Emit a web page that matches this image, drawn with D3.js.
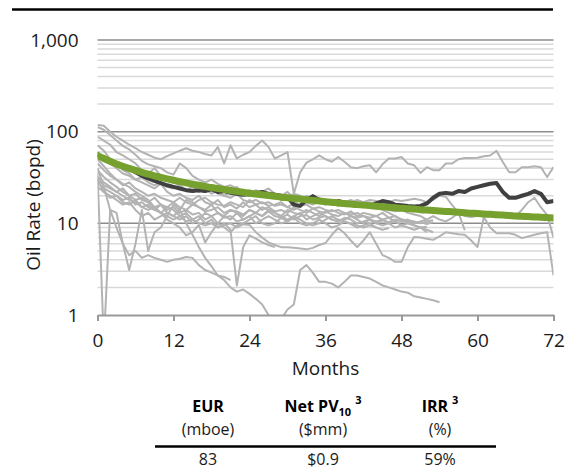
<!DOCTYPE html>
<html>
<head>
<meta charset="utf-8">
<script src="https://cdn.jsdelivr.net/npm/d3@7/dist/d3.min.js"></script>
<style>
  body { margin: 0; background: #fff; }
  svg { display: block; font-family: "Open Sans", "Noto Sans", sans-serif; }
</style>
</head>
<body>
<svg id="chart" width="583" height="471"></svg>
<script>
// ---- data: monthly oil rate (bopd) per well, index = month on production ----
const xTicks = [0, 12, 24, 36, 48, 60, 72];
const yTicks = [1, 10, 100, 1000];

const well01 = [118,116,100,88,80,72,66,60,56,52,50,54,58,62,66,62,60,57,55,68,45,71,51,56,60,70,80,68,51,55,60,21,36,46,50,55,50,47,53,47,41,40,42,43,36,44,51,51,53,45,43,35.5,41,38,38,45,45,50,51.5,51.5,52,54,55,61.7,46.6,36,36,41,41,42,41,32,41];
const well02 = [112,105,92,80,70,64,56,48,44,42,40,36,34,45,40,33,30,28,30,27,25,26,24,22,21,23,21,19,20,18,19,21,20,18,19,17,18,16.5,17,16,17.5,16,15,16,14.5,15,14,13.5,14,13,12.5,12,11];
const well03 = [88,80,72,60,55,50,45,38,35,40,33,30,28,26,29,25,23,22,24,21,20,19,21,18,17,18,16.5,17,15.5,16,15,14,15.5,16,14.5,15,14,13.5,14,13,12.5,13,12,11.5,12,11,11.5,10.5,11,10.5,10,10.3,9.8,10.3];
const well04 = [40,25,14,9,6,4.5,5,4.2,4.5,4.2,4.0,3.8,4.0,4.1,4.3,4.2,3.5,3.1,2.9,2.7,2.6,2.4];
const well05 = [30,22,20,18,16,17,14,12,13,11,12,13,12,14,10,7.5,5.5,4.2,3.4,2.7,2.4,2.0,1.8,1.9,1.7,1.5,1.3,1.0,0.5,0.9,1.15,1.3,3.1,3.5,2.9,2.3,2.3,2.2,2.0,2.3,2.7,2.7,2.6,2.5,2.3,2.1,2.0,1.9,1.8,1.75,1.6,1.55,1.5,1.45,1.38];
const well06 = [25,22,19,20,17,16,18,15,16,14,13,15,14,12,13,11,12,10,11,9,10,8.5,2.1,5.5,7.4,6.8,6.2,5.8,5.5];
const well07 = [30,26,24,22,20,18,17,15,14,15,13,12,11,12,10.5,11,10,9.5,10,9,9.5,10,9,9.8,9.6,8,7,6.2,5.8,5.5,5.5,5.4,5.3,5.2,5.4,5.8,6.1,7.5,8.9,7.8,6.5,5.5,6.5,8,6,4.5,4.2,3.8,3.8,5.5,7.1,7,6.8,6.6,7.2,8,7.8,7.6,7.5,6.5,5.5,11.7,9,7.8,7.8,7.8,7.5,6.9,7.2,7.5,7.8,8,2.7];
const well08 = [36,0.5,14,13,6,3.1,6,14,5,8,9,12,16,14,18,17,15,14,16,13,12,14,13,11,12,13,12,14,13,12,11,12,13,11,12,13,12,11,10.5,11,12,11,10,11,10,9.5,10,9,9.5,9,8.5,9,8];
const well09 = [71,62,50,45,38,35,30,28,26,24,27,22,20,21,19,18,20,17,16,18,15,16,14.5,17,15,16,14,15,13.5,14,13,15,14,13,14.5,13.5,13,14,13,12.5,13.5,12,13,12.5,12,13,11.5,12,11,10.8,10.5,10,10.5,10.8];
const well10 = [45,38,33,30,26,28,24,22,20,21,19,18,17,19,17,16,18,19,17,16,15.5,17,16,15,18,16,17,15.5,16,17,15,16.5,18,17,16,17.5,16,17,15.5,16,17,18,17,18,17.5,16.5,17,18,17.5,18,18.5,18,17,18,20,19.5,15.8,13,8.4];
const well11 = [38,32,28,25,22,20,21,18,17,19,16,15,17,15,14,16,15,13.5,14,15,13,14,13.5,12.5,14,13,12,13.5,12,11.5,12.5,11,12,12.3,11,11.5,12,11,10.5,11.5,11,10,10.5,11,10,10.8,10.3,11,10.5,11,10,10.5,11,12,11,10.5,11.5,13,12,11.7,12,13,12.5,12,12,11.5,12,14,17,19,15,12.3,7];
const well12 = [32,28,25,22,24,20,18,19,17,15,16,14,15,13,14,12.5,13,11,12,13,11.5,12,10.5,11,12,10,11,12,11,10,10.5,11.5,10,9.5,10,11,10,9,9.5,10.5,9.8,9,9.5,10,9,8.5,8.9];
const well13 = [50,42,35,30,27,25,22,20,18,15,13,11,10,9,7.4,8,9.6,6.2,8,10,12,11,13,12,14,13,15,14,13,12,14,13,12.5,14,13,12,13.5,12.5,12,13,12,11.5,12,11,10.5,11,10,10.5,9.5,10,9.5,9,9.2];
const well14 = [60,52,45,40,35,33,30,32,28,26,28,25,24,26,23,25,22,24,21,23,20,22,25,21,23,20,22,24,21,20,22,19,18,20,18.5,19,17,18,16.5,17,18,17,16,17,15,14,13,12,11,10,9.5,9,8.5,8];
const well15 = [28,24,22,20,18,19,16,17,15,14,16,13,12,11,12,10,11,13,12,10,9,8,9.5,10,11,12,10,9.5,10,11.5,10.5,12,11,10,9.5,10,11,12,11,10.5,10,9.5,9,9.5,9];

// program average of the wells and the fitted type curve
const wellAverage = [56,50,46,44,42,40,36,33,31,29,27.5,26,25,24,23,22.5,23,22.5,23.5,22,22.5,21.5,21,20.5,20.8,21.5,22,21,20.5,20,19.4,16,15.5,18,19.8,18,16.8,16.6,17.5,16.8,16,15.5,15.8,15.5,16.5,17.5,17,16,15.8,15.5,15.3,15.5,16.5,19,21,21.5,21,22.5,22,24,25,26,27,27.5,22,19,19,20,21,22.5,21,17,17.5];
const typeCurve = [55,51,47.5,44.5,42,39.8,37.8,36,34.4,33,31.7,30.5,29.5,28.5,27.6,26.8,26,25.3,24.6,24,23.4,22.8,22.3,21.8,21.3,20.9,20.5,20.1,19.7,19.3,19,18.7,18.4,18.1,17.8,17.5,17.2,17,16.7,16.5,16.2,16,15.8,15.6,15.4,15.2,15,14.8,14.6,14.45,14.3,14.1,13.95,13.8,13.65,13.5,13.35,13.2,13.05,12.9,12.8,12.65,12.55,12.4,12.3,12.2,12.05,11.95,11.85,11.75,11.65,11.55,11.45];

const wells = [well01, well02, well03, well04, well05, well06, well07, well08,
               well09, well10, well11, well12, well13, well14, well15];

// economics summary under the chart
const summaryLabels = ["EUR", "Net PV", "IRR"];
const summaryUnits = ["(mboe)", "($mm)", "(%)"];
const summaryValues = ["83", "$0.9", "59%"];

// ---- layout ----
const svg = d3.select("#chart");
const plotLeft = 97.5, plotRight = 553.5, plotTop = 40, plotBottom = 315;

const x = d3.scaleLinear().domain([0, 72]).range([plotLeft, plotRight]);
const y = d3.scaleLog().domain([1, 1000]).range([plotBottom, plotTop]);

// top rule
svg.append("line")
  .attr("x1", 12).attr("x2", 553).attr("y1", 9.5).attr("y2", 9.5)
  .attr("stroke", "#000").attr("stroke-width", 2.5);

// log gridlines: light minor lines, darker decade lines
const minor = [], major = [];
for (let k = 0; k < 3; k++) {
  for (let m = 2; m <= 9; m++) minor.push(m * Math.pow(10, k));
  major.push(Math.pow(10, k + 1));
}
svg.append("g").selectAll("line").data(minor).join("line")
  .attr("x1", plotLeft).attr("x2", plotRight)
  .attr("y1", d => y(d)).attr("y2", d => y(d))
  .attr("stroke", "#d9d9d9").attr("stroke-width", 1.5);
svg.append("g").selectAll("line").data(major).join("line")
  .attr("x1", plotLeft).attr("x2", plotRight)
  .attr("y1", d => y(d)).attr("y2", d => y(d))
  .attr("stroke", "#8c8c8c").attr("stroke-width", 1.5);

// plot clip
svg.append("clipPath").attr("id", "plot")
  .append("rect").attr("x", plotLeft).attr("y", plotTop - 5)
  .attr("width", plotRight - plotLeft).attr("height", plotBottom - plotTop + 5);

const line = d3.line()
  .defined(d => d != null)
  .x((d, i) => x(i))
  .y(d => y(d));

const plot = svg.append("g").attr("clip-path", "url(#plot)");

plot.selectAll(".well").data(wells).join("path")
  .attr("class", "well")
  .attr("d", line)
  .attr("fill", "none")
  .attr("stroke", "#b3b3b3")
  .attr("stroke-width", 2)
  .attr("stroke-linejoin", "round");

plot.append("path").datum(wellAverage)
  .attr("d", line)
  .attr("fill", "none")
  .attr("stroke", "#404040")
  .attr("stroke-width", 4)
  .attr("stroke-linejoin", "round");

plot.append("path").datum(typeCurve)
  .attr("d", line.curve(d3.curveMonotoneX))
  .attr("fill", "none")
  .attr("stroke", "#76a12e")
  .attr("stroke-width", 7)
  .attr("stroke-linecap", "round");

// x axis
const xAxis = svg.append("g")
  .attr("transform", `translate(0,${plotBottom})`)
  .call(d3.axisBottom(x).tickValues(xTicks).tickSize(6).tickSizeOuter(0).tickPadding(13));
xAxis.select(".domain").attr("stroke", "#999").attr("stroke-width", 2);
xAxis.selectAll(".tick line").attr("stroke", "#999").attr("stroke-width", 2);
xAxis.selectAll("text")
  .attr("font-size", 19).attr("fill", "#1a1a1a")
  .attr("font-family", "\"Open Sans\", sans-serif");

// y axis labels
const yAxis = svg.append("g")
  .attr("transform", `translate(${plotLeft},0)`)
  .call(d3.axisLeft(y).tickValues(yTicks).tickFormat(d3.format(",")).tickSize(0).tickPadding(19));
yAxis.select(".domain").remove();
yAxis.selectAll("text")
  .attr("font-size", 19).attr("fill", "#1a1a1a")
  .attr("font-family", "\"Open Sans\", sans-serif");

// axis titles
svg.append("text")
  .attr("x", (plotLeft + plotRight) / 2).attr("y", 375)
  .attr("text-anchor", "middle").attr("font-size", 19).attr("fill", "#1a1a1a")
  .text("Months");

svg.append("text")
  .attr("transform", "translate(40,205) rotate(-90)")
  .attr("text-anchor", "middle").attr("font-size", 19).attr("fill", "#1a1a1a")
  .text("Oil Rate (bopd)");

// summary table
const colX = [208, 323, 440];
const head = svg.append("g").attr("font-weight", "bold").attr("font-size", 16).attr("fill", "#000");

head.append("text").attr("x", colX[0]).attr("y", 412).attr("text-anchor", "middle").text(summaryLabels[0]);

const pv = head.append("text").attr("x", colX[1]).attr("y", 412).attr("text-anchor", "middle");
pv.append("tspan").text(summaryLabels[1]);
pv.append("tspan").attr("font-size", 11).attr("dy", 4).text("10");
pv.append("tspan").attr("font-size", 11).attr("dy", -12).attr("dx", 4).text("3");

const irr = head.append("text").attr("x", colX[2]).attr("y", 412).attr("text-anchor", "middle");
irr.append("tspan").text(summaryLabels[2]);
irr.append("tspan").attr("font-size", 11).attr("dy", -8).attr("dx", 4).text("3");

svg.append("g").selectAll("text").data(summaryUnits).join("text")
  .attr("x", (d, i) => colX[i]).attr("y", 435)
  .attr("text-anchor", "middle").attr("font-size", 16).attr("fill", "#1a1a1a")
  .text(d => d);

svg.append("line")
  .attr("x1", 155).attr("x2", 496).attr("y1", 446.5).attr("y2", 446.5)
  .attr("stroke", "#000").attr("stroke-width", 2.5);

svg.append("g").selectAll("text").data(summaryValues).join("text")
  .attr("x", (d, i) => colX[i]).attr("y", 465)
  .attr("text-anchor", "middle").attr("font-size", 16).attr("fill", "#1a1a1a")
  .text(d => d);
</script>
</body>
</html>
